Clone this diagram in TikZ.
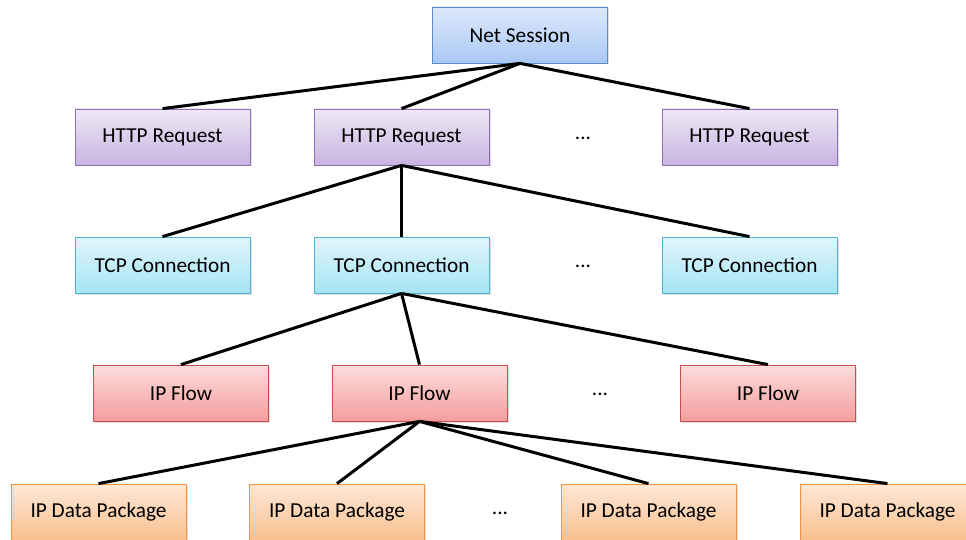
\documentclass[tikz,border=0pt]{standalone}
\usepackage{fontspec}
\setmainfont{Carlito}
\usetikzlibrary{shadows}

\definecolor{sessTop}{HTML}{DDE9FB}
\definecolor{sessBot}{HTML}{A9C8F5}
\definecolor{sessLine}{HTML}{5B8BC9}
\definecolor{httpTop}{HTML}{EEE8F6}
\definecolor{httpBot}{HTML}{C8B3E1}
\definecolor{httpLine}{HTML}{8C70B0}
\definecolor{tcpTop}{HTML}{E0F5FB}
\definecolor{tcpBot}{HTML}{A6E4F4}
\definecolor{tcpLine}{HTML}{4FB3D0}
\definecolor{flowTop}{HTML}{FCDCDC}
\definecolor{flowBot}{HTML}{F59D9D}
\definecolor{flowLine}{HTML}{C9504E}
\definecolor{pkgTop}{HTML}{FDE8D8}
\definecolor{pkgBot}{HTML}{FAC08F}
\definecolor{pkgLine}{HTML}{F59140}

\begin{document}
\begin{tikzpicture}[x=1pt,y=-1pt,
    box/.style={draw, minimum width=175pt, minimum height=56pt, line width=0.8pt,
      font=\fontsize{21.3}{25}\selectfont,
      drop shadow={opacity=0.25, shadow xshift=1.5pt, shadow yshift=-1.5pt}},
    session/.style={box, draw=sessLine, top color=sessTop, bottom color=sessBot},
    request/.style={box, draw=httpLine, top color=httpTop, bottom color=httpBot},
    conn/.style={box, draw=tcpLine, top color=tcpTop, bottom color=tcpBot},
    flow/.style={box, draw=flowLine, top color=flowTop, bottom color=flowBot},
    package/.style={box, draw=pkgLine, top color=pkgTop, bottom color=pkgBot},
    more/.style={font=\fontsize{21.3}{25}\selectfont},
    link/.style={line width=3pt}]
    \clip (0,0) rectangle (966,540);

    \node[session] (ns) at (520,35) {Net Session};

    \node[request] (h1) at (162.5,137) {HTTP Request};
    \node[request] (h2) at (401.5,137) {HTTP Request};
    \node[more]    (hd) at (583,138) {...};
    \node[request] (h3) at (749.5,137) {HTTP Request};

    \node[conn] (t1) at (162.5,265) {TCP Connection};
    \node[conn] (t2) at (401.5,265) {TCP Connection};
    \node[more] (td) at (583,266) {...};
    \node[conn] (t3) at (749.5,265) {TCP Connection};

    \node[flow] (f1) at (181,393) {IP Flow};
    \node[flow] (f2) at (419.5,393) {IP Flow};
    \node[more] (fd) at (600,394) {...};
    \node[flow] (f3) at (768,393) {IP Flow};

    \node[package] (p1) at (98.5,512) {IP Data Package};
    \node[package] (p2) at (337,512) {IP Data Package};
    \node[more]    (pd) at (500,513) {...};
    \node[package] (p3) at (648.5,512) {IP Data Package};
    \node[package] (p4) at (887.5,512) {IP Data Package};

    % tree edges
    \draw[link] (ns.south) -- (h1.north);
    \draw[link] (ns.south) -- (h2.north);
    \draw[link] (ns.south) -- (h3.north);

    \draw[link] (h2.south) -- (t1.north);
    \draw[link] (h2.south) -- (t2.north);
    \draw[link] (h2.south) -- (t3.north);

    \draw[link] (t2.south) -- (f1.north);
    \draw[link] (t2.south) -- (f2.north);
    \draw[link] (t2.south) -- (f3.north);

    \draw[link] (f2.south) -- (p1.north);
    \draw[link] (f2.south) -- (p2.north);
    \draw[link] (f2.south) -- (p3.north);
    \draw[link] (f2.south) -- (p4.north);
  \end{tikzpicture}
\end{document}
